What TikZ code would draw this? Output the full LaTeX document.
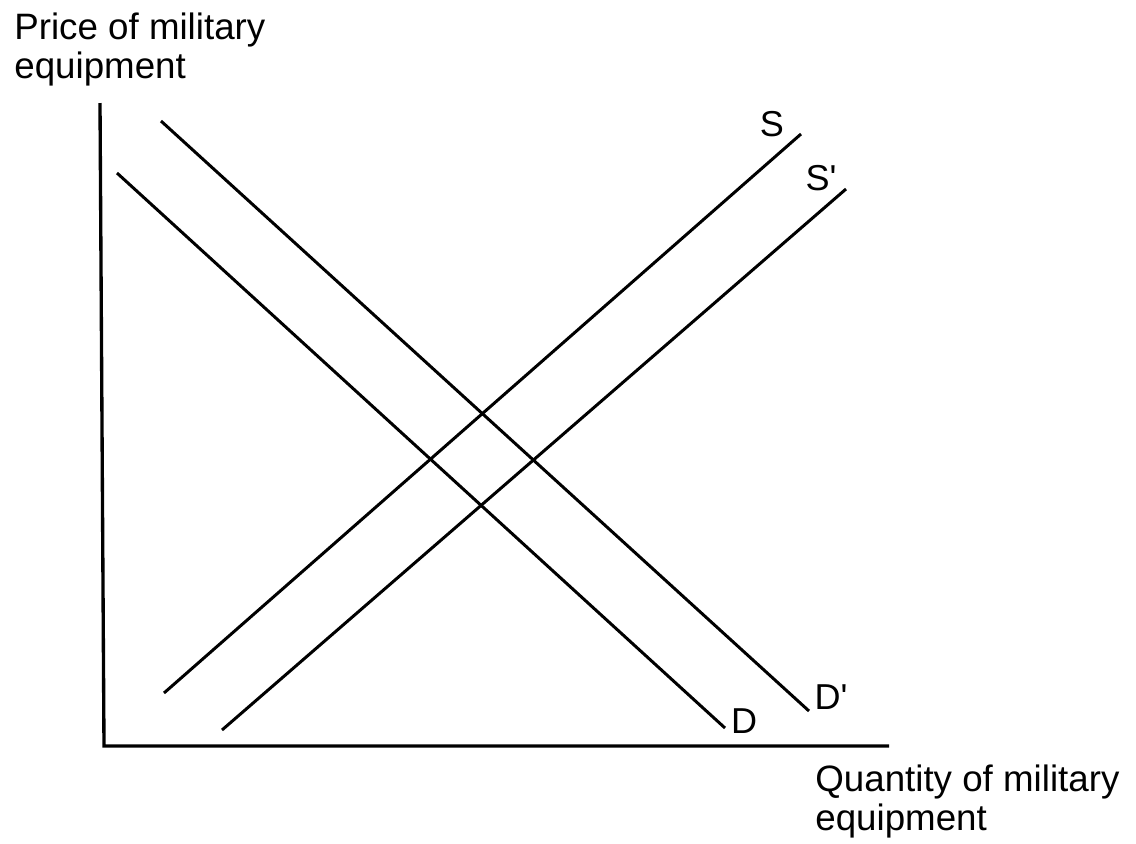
\documentclass[tikz,border=0pt]{standalone}
\usepackage{fontspec}
\setmainfont{Liberation Sans}
\usepackage{tikz}
\tikzset{
  axisline/.style={line width=1.9pt,draw=black},
  curve/.style={line width=1.7pt,draw=black},
  curvelabel/.style={font=\fontsize{20.5}{22}\selectfont,inner sep=0pt},
  axislabel/.style={font=\fontsize{20.9}{21.8}\selectfont,align=left,inner sep=0pt,anchor=north west}
}

\begin{document}
\begin{tikzpicture}[x=0.02cm,y=-0.02cm]
  \useasboundingbox (0,0) rectangle (1136,843);

  % axes
  \coordinate (ytop) at (100,103);
  \coordinate (origin) at (104,746);
  \coordinate (xend) at (889,746);
  \draw[axisline] (ytop) -- (origin) -- (xend);

  \node[axislabel] (plabel) at (14,13) {Price of military\\equipment};
  \node[axislabel] (qlabel) at (815,765) {Quantity of military\\equipment};

  % demand curves
  \coordinate (d1) at (117,173);
  \coordinate (d2) at (725,728);
  \coordinate (dd1) at (161,121);
  \coordinate (dd2) at (809,711);
  \draw[curve] (d1) -- (d2);
  \draw[curve] (dd1) -- (dd2);

  % supply curves
  \coordinate (s1) at (164,693);
  \coordinate (s2) at (801,134);
  \coordinate (ss1) at (222,730);
  \coordinate (ss2) at (846,189);
  \draw[curve] (s1) -- (s2);
  \draw[curve] (ss1) -- (ss2);

  \node[curvelabel] (dlabel) at (744,721) {D};
  \node[curvelabel] (ddlabel) at (831,697) {D\textquotesingle};
  \node[curvelabel] (slabel) at (772,124) {S};
  \node[curvelabel] (sslabel) at (821,178) {S\textquotesingle};
\end{tikzpicture}
\end{document}
